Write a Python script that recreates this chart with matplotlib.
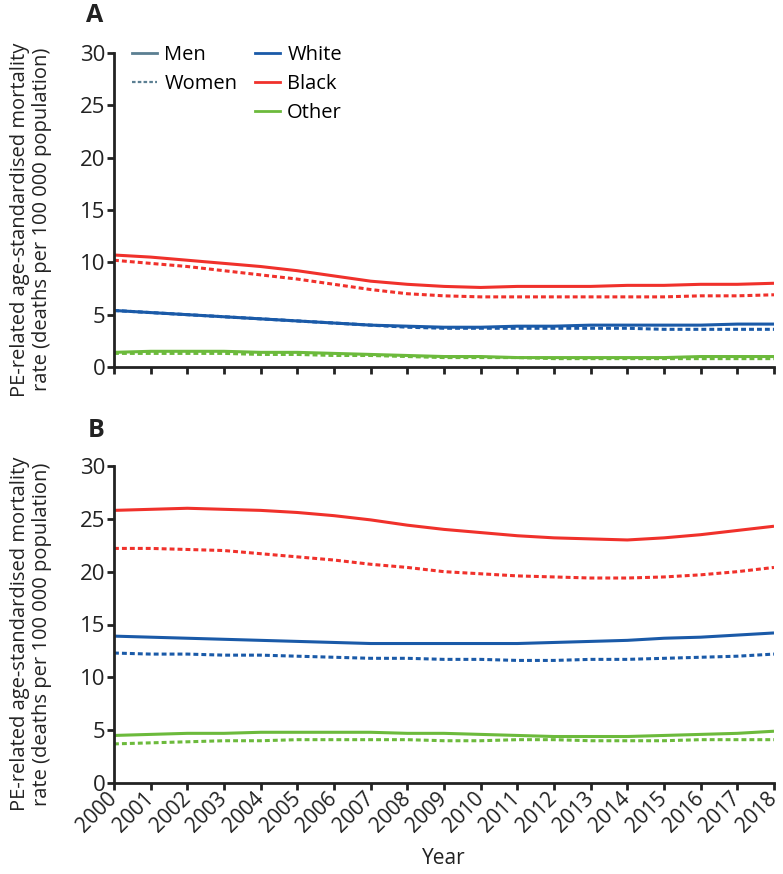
import matplotlib
matplotlib.use("Agg")
import matplotlib.pyplot as plt
from matplotlib.lines import Line2D

plt.rcParams['font.family'] = ['Open Sans', 'DejaVu Sans']

years = list(range(2000, 2019))
year_labels = [str(y) for y in years]
yticks = [0, 5, 10, 15, 20, 25, 30]

# Panel A
a_black_men = [10.7, 10.5, 10.2, 9.9, 9.6, 9.2, 8.7, 8.2, 7.9, 7.7, 7.6, 7.7, 7.7, 7.7, 7.8, 7.8, 7.9, 7.9, 8.0]
a_black_women = [10.2, 9.9, 9.6, 9.2, 8.8, 8.4, 7.9, 7.4, 7.0, 6.8, 6.7, 6.7, 6.7, 6.7, 6.7, 6.7, 6.8, 6.8, 6.9]
a_white_men = [5.4, 5.2, 5.0, 4.8, 4.6, 4.4, 4.2, 4.0, 3.9, 3.8, 3.8, 3.9, 3.9, 4.0, 4.0, 4.0, 4.0, 4.1, 4.1]
a_white_women = [5.4, 5.2, 5.0, 4.8, 4.6, 4.4, 4.2, 4.0, 3.8, 3.7, 3.7, 3.7, 3.7, 3.7, 3.7, 3.6, 3.6, 3.6, 3.6]
a_other_men = [1.4, 1.5, 1.5, 1.5, 1.4, 1.4, 1.3, 1.2, 1.1, 1.0, 1.0, 0.9, 0.9, 0.9, 0.9, 0.9, 1.0, 1.0, 1.0]
a_other_women = [1.3, 1.3, 1.3, 1.3, 1.2, 1.2, 1.1, 1.1, 1.0, 0.9, 0.9, 0.9, 0.8, 0.8, 0.8, 0.8, 0.8, 0.8, 0.8]

# Panel B
b_black_men = [25.8, 25.9, 26.0, 25.9, 25.8, 25.6, 25.3, 24.9, 24.4, 24.0, 23.7, 23.4, 23.2, 23.1, 23.0, 23.2, 23.5, 23.9, 24.3]
b_black_women = [22.2, 22.2, 22.1, 22.0, 21.7, 21.4, 21.1, 20.7, 20.4, 20.0, 19.8, 19.6, 19.5, 19.4, 19.4, 19.5, 19.7, 20.0, 20.4]
b_white_men = [13.9, 13.8, 13.7, 13.6, 13.5, 13.4, 13.3, 13.2, 13.2, 13.2, 13.2, 13.2, 13.3, 13.4, 13.5, 13.7, 13.8, 14.0, 14.2]
b_white_women = [12.3, 12.2, 12.2, 12.1, 12.1, 12.0, 11.9, 11.8, 11.8, 11.7, 11.7, 11.6, 11.6, 11.7, 11.7, 11.8, 11.9, 12.0, 12.2]
b_other_men = [4.5, 4.6, 4.7, 4.7, 4.8, 4.8, 4.8, 4.8, 4.7, 4.7, 4.6, 4.5, 4.4, 4.4, 4.4, 4.5, 4.6, 4.7, 4.9]
b_other_women = [3.7, 3.8, 3.9, 4.0, 4.0, 4.1, 4.1, 4.1, 4.1, 4.0, 4.0, 4.1, 4.1, 4.0, 4.0, 4.0, 4.1, 4.1, 4.1]

WHITE = '#1a5aa8'
BLACK = '#f0312b'
OTHER = '#6cba3c'
SEX = '#5b7f92'
DASH = (0, (1.6, 1.0))
LW = 2.2
INK = '#222222'

fig = plt.figure(figsize=(7.83, 8.74), dpi=100)
W, H = 783, 874
axA = fig.add_axes([114 / W, 1 - 367 / H, (774 - 114) / W, (367 - 53) / H])
axB = fig.add_axes([114 / W, 1 - 783 / H, (774 - 114) / W, (783 - 466) / H])

def draw(ax, bm, bw, wm, ww, om, ow):
    ax.plot(years, bm, color=BLACK, lw=LW, solid_capstyle='butt')
    ax.plot(years, bw, color=BLACK, lw=LW, ls=DASH)
    ax.plot(years, wm, color=WHITE, lw=LW, solid_capstyle='butt')
    ax.plot(years, ww, color=WHITE, lw=LW, ls=DASH)
    ax.plot(years, om, color=OTHER, lw=LW, solid_capstyle='butt')
    ax.plot(years, ow, color=OTHER, lw=LW, ls=DASH)
    ax.set_xlim(2000, 2018)
    ax.set_ylim(0, 30)
    ax.set_yticks(yticks)
    ax.set_yticklabels([str(t) for t in yticks], fontsize=16, color=INK)
    ax.set_xticks(years)
    for s in ['top', 'right']:
        ax.spines[s].set_visible(False)
    for s in ['left', 'bottom']:
        ax.spines[s].set_linewidth(2.0)
        ax.spines[s].set_color(INK)
    ax.tick_params(axis='both', direction='out', length=5, width=2.0, color=INK, pad=1)
    ax.set_ylabel('PE-related age-standardised mortality\nrate (deaths per 100 000 population)',
                  fontsize=14.5, linespacing=1.1, color=INK)
    ax.yaxis.set_label_coords(-0.094, 0.47)

draw(axA, a_black_men, a_black_women, a_white_men, a_white_women, a_other_men, a_other_women)
draw(axB, b_black_men, b_black_women, b_white_men, b_white_women, b_other_men, b_other_women)

axA.set_xticklabels([])
axB.set_xticklabels(year_labels, rotation=45, ha='right', va='center', rotation_mode='anchor',
                    fontsize=15, color=INK)
axB.tick_params(axis='x', pad=4)
axB.set_xlabel('Year', fontsize=15, labelpad=8, color=INK)

common = dict(frameon=False, fontsize=14.5, handlelength=1.25, handletextpad=0.35,
              labelspacing=0.45, borderaxespad=0, borderpad=0, loc='upper left')
h1 = [Line2D([], [], color=SEX, lw=2), Line2D([], [], color=SEX, lw=1.6, ls=(0, (1.6, 1.0)))]
leg1 = fig.legend(h1, ['Men', 'Women'], bbox_to_anchor=(132 / W, 1 - 45 / H), **common)
h2 = [Line2D([], [], color=WHITE, lw=2), Line2D([], [], color=BLACK, lw=2), Line2D([], [], color=OTHER, lw=2)]
leg2 = fig.legend(h2, ['White', 'Black', 'Other'], bbox_to_anchor=(255 / W, 1 - 45 / H), **common)

fig.text(86 / W, 1 - 22 / H, 'A', fontsize=18, fontweight='bold', color=INK)
fig.text(88 / W, 1 - 437 / H, 'B', fontsize=18, fontweight='bold', color=INK)

fig.savefig('out.png', dpi=100)
